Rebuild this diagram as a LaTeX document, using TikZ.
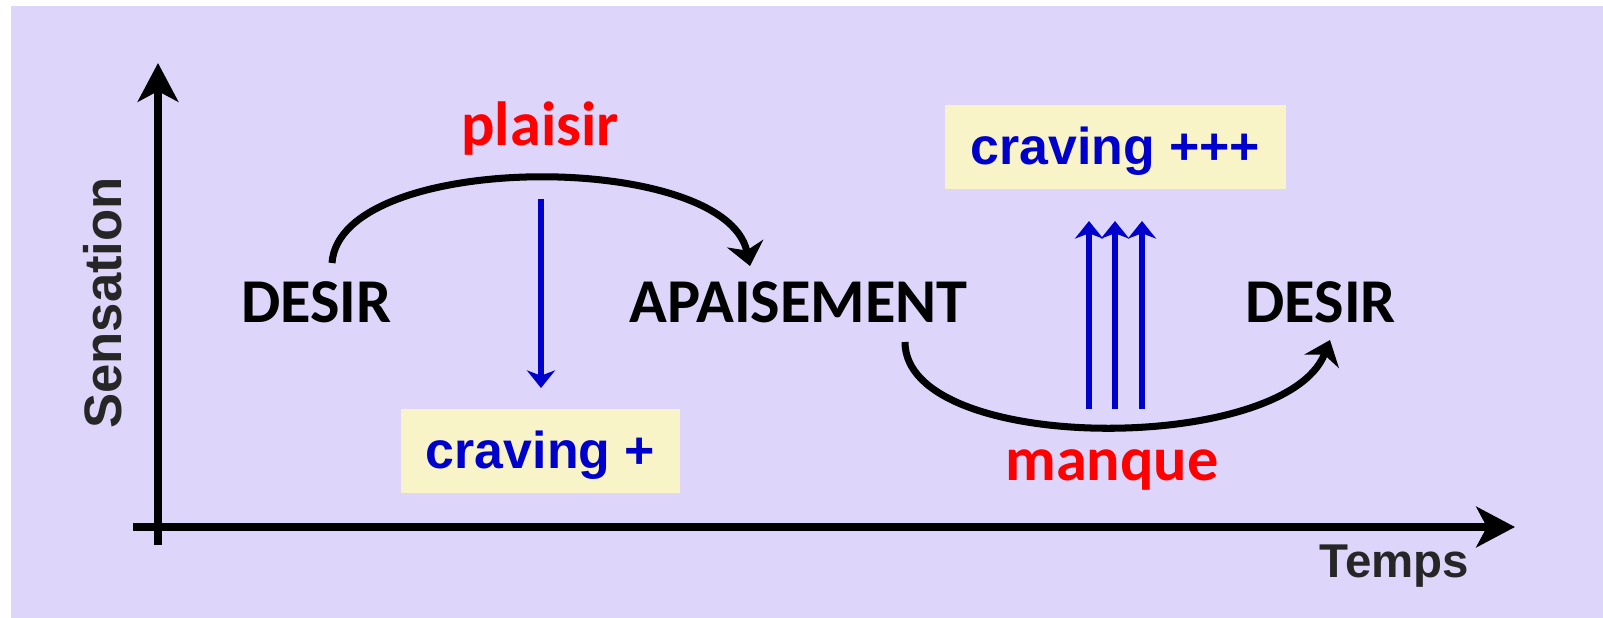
\documentclass[tikz,border=0pt]{standalone}
\usepackage{fontspec}
\usetikzlibrary{arrows.meta}
\newfontfamily\carlfont{Carlito}
\newfontfamily\arialfont{Liberation Sans}
\definecolor{lavender}{RGB}{222,213,250}
\definecolor{paleyellow}{RGB}{249,244,200}
\definecolor{cravblue}{RGB}{0,0,204}
\definecolor{axisgray}{RGB}{38,38,38}

\begin{document}
\begin{tikzpicture}[x=0.02cm, y=-0.02cm,
  stateword/.style={font=\carlfont\bfseries\fontsize{35.5pt}{40pt}\selectfont, inner sep=0pt, anchor=base},
  feeling/.style={stateword, text=red},
  axislabel/.style={text=axisgray, inner sep=0pt, anchor=base},
  cravebox/.style={fill=paleyellow, text=cravblue,
    font=\arialfont\bfseries\fontsize{29.5pt}{34pt}\selectfont,
    inner sep=0pt, minimum height=1.68cm, text height=0.7cm, text depth=0pt},
  axisline/.style={line width=4.5pt, -{Stealth[length=22pt, width=23pt, inset=6pt]}},
  swing/.style={line width=4pt, -{Stealth[length=13pt, width=21pt, inset=4pt]}},
  pull/.style={cravblue, line width=3.4pt, -{Stealth[length=10pt, width=16pt, inset=3pt]}}
]
% page and background panel
\useasboundingbox (0,0) rectangle (1603,618);
\fill[lavender] (11,6) rectangle (1603,618);

% axes
\coordinate (yfoot) at (158,545);
\coordinate (ytip) at (158,63);
\coordinate (xfoot) at (133,527);
\coordinate (xtip) at (1515,527);
\draw[axisline] (yfoot) -- (ytip);
\draw[axisline] (xfoot) -- (xtip);
\node[axislabel, rotate=90, font=\arialfont\bfseries\fontsize{30pt}{34pt}\selectfont] (sens) at (121,303) {Sensation};
\node[axislabel, font=\arialfont\bfseries\fontsize{27pt}{31pt}\selectfont] (temps) at (1394.5,577) {Temps};

% states
\node[stateword] (desirA) at (316.5,322) {DESIR};
\node[stateword] (apais) at (798.5,322) {APAISEMENT};
\node[stateword] (desirB) at (1320.5,322) {DESIR};
\node[feeling] (plaisir) at (540,146) {plaisir};
\node[feeling] (manque) at (1112,480) {manque};

% craving boxes
\node[cravebox, minimum width=5.58cm] (crav1) at (540.5,451) {craving +};
\node[cravebox, minimum width=6.82cm] (crav3) at (1115.5,147) {craving +++};

% cycle arcs
\coordinate (plaisirStart) at (332,263);
\coordinate (plaisirEnd) at (750,266);
\draw[swing] (plaisirStart) .. controls (340,150) and (725,150) .. (plaisirEnd);
\coordinate (manqueStart) at (905,342);
\coordinate (manqueEnd) at (1330,340);
\draw[swing] (manqueStart) .. controls (905,455) and (1285,455) .. (manqueEnd);

% craving pulls
\coordinate (downTop) at (541,199);
\coordinate (downTip) at (541,388);
\draw[pull] (downTop) -- (downTip);
\foreach \k/\xx in {1/1089, 2/1115, 3/1142} {
  \coordinate (upFoot\k) at (\xx,409);
  \coordinate (upTip\k) at (\xx,221);
  \draw[pull] (upFoot\k) -- (upTip\k);
}
\end{tikzpicture}
\end{document}
